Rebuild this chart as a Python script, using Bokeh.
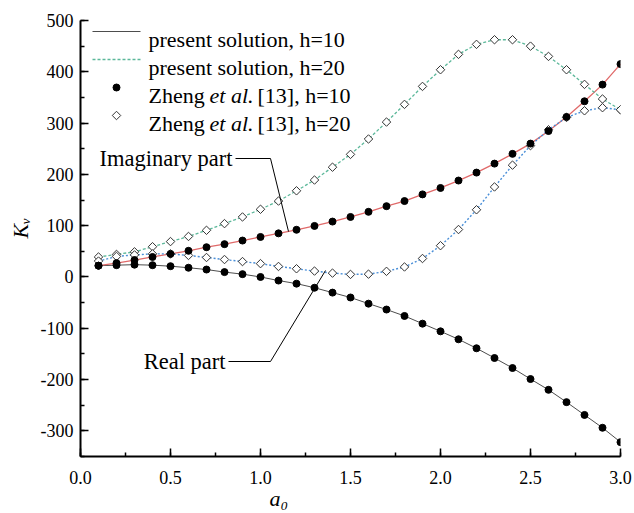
from bokeh.plotting import figure
from bokeh.models import Range1d, SingleIntervalTicker, PrintfTickFormatter, Label, Title
from bokeh.embed import file_html
from bokeh.resources import INLINE
import math

# ---------------- data ----------------
a0 = [0.1, 0.2, 0.3, 0.4, 0.5, 0.6, 0.7, 0.8, 0.9, 1.0,
      1.1, 1.2, 1.3, 1.4, 1.5, 1.6, 1.7, 1.8, 1.9, 2.0,
      2.1, 2.2, 2.3, 2.4, 2.5, 2.6, 2.7, 2.8, 2.9, 3.0]

imag_h10 = [22, 27, 33, 39, 45, 51, 58, 64, 71, 78,
            85, 92, 99.5, 108, 117, 127, 138, 148, 161, 173.5,
            188, 203.5, 221, 240, 260, 284.5, 312, 342.5, 375, 415]

real_h10 = [22, 23, 24, 23, 21, 18, 14.5, 9.5, 5.5, 0,
            -7, -13, -21, -30.5, -40, -52, -63.5, -76, -91, -106,
            -121.5, -139, -158, -177.5, -199, -220, -244, -269, -294, -322]

imag_h20 = [39, 44, 49, 59, 69, 79, 91, 104, 117, 132,
            148, 168, 189, 214, 239, 269, 302, 336.5, 371.5, 404,
            434, 453.5, 462.5, 462.5, 450, 430, 404, 375.5, 347, 326]

real_h20 = [31, 40, 43, 45, 45, 42, 38, 34, 30, 26,
            20.5, 16, 11.5, 7.5, 5, 5.5, 11, 19.5, 36, 61,
            92.5, 131, 175.5, 218, 256, 287, 311, 324, 330, 326]

legend_labels = ["present solution, h=10", "present solution, h=20"]
ref_name = ["Zheng", "et al.", "[13], h=10", "[13], h=20"]
x_title = "a\u2080"
y_title = "K\u1d65"

# ---------------- layout / style ----------------
W, H = 634, 513
L, R, T, B = 80, 14, 20, 57
X0, X1 = 0.0, 3.0
Y0, Y1 = -350.0, 500.0
FW = W - L - R
FH = H - T - B

def px2x(px):
    return X0 + (px - L) / FW * (X1 - X0)

def py2y(py):
    return Y1 - (py - T) / FH * (Y1 - Y0)

SERIF = "Liberation Serif"
RED = "#e06a6a"
GRAY = "#4d4d4d"
GREEN = "#5cb89a"
BLUE = "#4a8fd8"
MK_EDGE = "#333333"
DIA = dict(marker="square", angle=math.pi / 4, size=6, fill_color="white",
           line_color=MK_EDGE, line_width=1)
DOT = dict(marker="circle", size=7, fill_color="black", line_color="black")

p = figure(width=W, height=H, output_backend="svg", toolbar_location=None,
           x_range=Range1d(X0, X1), y_range=Range1d(Y0, Y1),
           min_border_left=L, min_border_right=R, min_border_top=T, min_border_bottom=B)
p.outline_line_color = None
p.xgrid.visible = False
p.ygrid.visible = False

p.xaxis.ticker = SingleIntervalTicker(interval=0.5, num_minor_ticks=2)
p.yaxis.ticker = SingleIntervalTicker(interval=100, num_minor_ticks=2)
p.xaxis.formatter = PrintfTickFormatter(format="%.1f")
p.yaxis.formatter = PrintfTickFormatter(format="%d")
for ax in (p.xaxis, p.yaxis):
    ax.axis_line_width = 2
    ax.axis_line_color = "black"
    ax.major_tick_in = 8
    ax.major_tick_out = 0
    ax.minor_tick_in = 4
    ax.minor_tick_out = 0
    ax.major_tick_line_width = 1.5
    ax.minor_tick_line_width = 1.5
    ax.major_tick_line_color = "black"
    ax.minor_tick_line_color = "black"
    ax.major_label_text_font = SERIF
    ax.major_label_text_font_size = "18px"
    ax.major_label_text_color = "black"
p.xaxis.major_label_standoff = 14
p.yaxis.major_label_standoff = 7

# axis titles as side-panel titles (italic serif)
p.add_layout(Title(text=y_title, align="left", offset=218, text_font=SERIF,
                   text_font_style="italic", text_font_size="22px",
                   text_color="black"), "left")
p.add_layout(Title(text=x_title, align="left", offset=189, text_font=SERIF,
                   text_font_style="italic", text_font_size="22px", standoff=-6,
                   text_color="black"), "below")

# ---------------- curves ----------------
p.line(a0, real_h10, line_color=GRAY, line_width=1)
p.line(a0, imag_h10, line_color=RED, line_width=1.3)
p.line(a0, imag_h20, line_color=GREEN, line_width=1.3, line_dash="3 2")
p.line(a0, real_h20, line_color=BLUE, line_width=1.4, line_dash="2 2")

p.scatter(a0, imag_h20, **DIA)
p.scatter(a0, real_h20, **DIA)
p.scatter(a0, real_h10, **DOT)
p.scatter(a0, imag_h10, **DOT)

# ---------------- legend (manual, for italic "et al.") ----------------
LEG_BASE = [38.5, 66.5, 94.5, 122.5]
LEG_SX0, LEG_SX1, LEG_TX = 92, 140, 148
FS = "22px"

def leg_y(i):
    return py2y(LEG_BASE[i] - 7.5)

p.line([px2x(LEG_SX0), px2x(LEG_SX1)], [leg_y(0)] * 2, line_color=GRAY, line_width=1)
p.line([px2x(LEG_SX0), px2x(LEG_SX1)], [leg_y(1)] * 2, line_color=GREEN, line_width=1.3,
       line_dash="3 2")
mid = px2x((LEG_SX0 + LEG_SX1) / 2)
p.scatter([mid], [leg_y(2)], **DOT)
p.scatter([mid], [leg_y(3)], **DIA)

for i, txt in enumerate(legend_labels):
    p.add_layout(Label(x=px2x(LEG_TX), y=py2y(LEG_BASE[i]), text=txt,
                       text_font=SERIF, text_font_size=FS, text_baseline="alphabetic",
                       text_align="left", text_color="black"))

X_ETAL = 209
X_REF = 257
for j, i in enumerate([2, 3]):
    yb = py2y(LEG_BASE[i])
    p.add_layout(Label(x=px2x(LEG_TX), y=yb, text=ref_name[0], text_font=SERIF,
                       text_font_size=FS, text_baseline="alphabetic", text_color="black"))
    p.add_layout(Label(x=px2x(X_ETAL), y=yb, text=ref_name[1], text_font=SERIF,
                       text_font_style="italic", text_font_size=FS,
                       text_baseline="alphabetic", text_color="black"))
    p.add_layout(Label(x=px2x(X_REF), y=yb, text=ref_name[2 + j],
                       text_font=SERIF, text_font_size=FS, text_baseline="alphabetic",
                       text_color="black"))

# ---------------- annotations with leader lines ----------------
p.add_layout(Label(x=px2x(232), y=py2y(158), text="Imaginary part", text_font=SERIF,
                   text_font_size="22.5px", text_align="right", text_baseline="middle",
                   text_color="black"))
p.line([px2x(235), px2x(270), px2x(288)], [py2y(158), py2y(158), py2y(231)],
       line_color="black", line_width=1)

p.add_layout(Label(x=px2x(225), y=py2y(361), text="Real part", text_font=SERIF,
                   text_font_size="22.5px", text_align="right", text_baseline="middle",
                   text_color="black"))
p.line([px2x(228), px2x(270), px2x(325)], [py2y(361), py2y(361), py2y(270)],
       line_color="black", line_width=1)

open("out.html", "w").write(file_html(p, INLINE))
